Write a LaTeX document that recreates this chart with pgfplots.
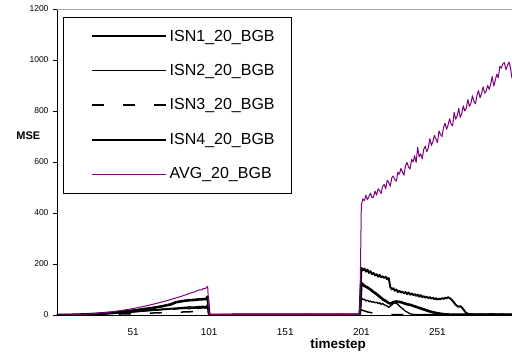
\documentclass[border=0pt]{standalone}
\usepackage{pgfplots}
\pgfplotsset{compat=1.18}
\usepackage{fontspec}
\setmainfont{Liberation Sans}
\definecolor{avgpurple}{RGB}{128,0,128}
\begin{document}
\begin{tikzpicture}
\begin{axis}[
  at={(0,0)}, anchor=south west,
  scale only axis, width=455pt, height=306pt,
  xmin=1, xmax=300, ymin=0, ymax=1200,
  axis x line*=bottom, axis y line*=left,
  axis line style={black, line width=0.9pt, -},
  xtick={51,101,151,201,251},
  ytick={0,200,400,600,800,1000,1200},
  x tick style={draw=none},
  y tick style={black, line width=0.6pt},
  tick align=outside, major tick length=4pt,
  /pgf/number format/assume math mode=true,
  /pgf/number format/1000 sep={},
  yticklabel style={font=\fontsize{8.5}{10}\selectfont, xshift=-1pt},
  xticklabel style={font=\fontsize{10}{12}\selectfont, yshift=-6pt},
  xlabel={\textbf{timestep}},
  xlabel style={at={(axis description cs:0.618,-0.098)}, anchor=center, font=\fontsize{13.5}{15}\selectfont},
  ylabel={\textbf{MSE}},
  ylabel style={at={(axis description cs:-0.063,0.585)}, anchor=center, rotate=-90, font=\fontsize{11}{13}\selectfont},
  legend cell align=left,
  legend style={at={(axis description cs:0.0132,0.974)}, anchor=north west,
    draw=black, line width=0.8pt, fill=white,
    font=\fontsize{16}{18}\selectfont,
    inner xsep=15pt, inner ysep=10.5pt, row sep=17.8pt},
  legend image code/.code={\path[draw=none] (0pt,0pt) -- (88pt,0pt); \draw[#1] (14pt,0pt) -- (88pt,0pt);},
]
% ISN1 thick
\addplot[black, line width=2.6pt, line join=round] coordinates {
(1,0)(4,0.1)(7,0.3)(10,0.6)(13,1)(16,1.6)(19,2.3)(22,3)(25,4)(28,5)(31,6.2)(34,7.5)(37,9)(40,10.5)(43,12)(46,14)(49,16)(52,18)(55,20.5)(58,23)(61,25.5)(64,28)(67,31)(70,34)(73,38)(76,42)(79,50)(82,53)(85,56)(88,58)(91,59)(94,61)(97,62)(99,63)(100,72)(101,0)
(120,1)(150,1)(180,1)(200,1)
(201,125)(203,114)(205,108)(207,100)(209,90)(211,82)(213,72)(215,62)(217,55)(219,47)(220,45)(222,50)(224,53)(225,52)(227,50)(228,48)(230,44)(231,42)(233,40)(234,38)(236,34)(237,32)(239,28)(240,26)(242,22)(243,20)(245,16)(246,14)(248,11)(250,8)(252,6)(255,3)(258,2)(260,1)(280,1)(300,1)
};
% ISN2 thin
\addplot[black, line width=1.3pt, line join=round] coordinates {
(1,0)(4,0.1)(7,0.2)(10,0.4)(13,0.7)(16,1.1)(19,1.5)(22,2.1)(25,2.7)(28,3.5)(31,4.3)(34,5.2)(37,6.2)(40,7.3)(43,8.4)(46,9.6)(49,11)(52,12.4)(55,14)(58,15.5)(61,17)(64,18.5)(67,20)(70,22)(73,24)(76,25.5)(79,27)(82,28.5)(85,30)(88,32)(91,31)(94,33)(97,34)(99,33)(100,40)(101,0)
(130,1)(170,1)(200,1)
(201,68)(202,60)(203,62)(204,55)(205,58)(206,52)(207,55)(208,50)(209,52)(210,48)(211,50)(212,45)(213,48)(214,42)(215,45)(216,40)(217,38)(218,35)(219,30)(220,35)(221,40)(222,45)(223,48)(224,45)(225,42)(226,35)(227,30)(228,25)(229,20)(230,15)(231,12)(232,8)(233,5)(234,3)(236,2)(240,1)(300,1)
};
% ISN3 dashed
\addplot[black, line width=1.5pt, dash pattern={on 12pt off 19pt}] coordinates {
(1,0)(10,0.3)(20,1)(30,2)(40,3.5)(50,5)(60,7)(70,9)(80,11)(90,13)(100,15)(101,0)
(150,1)(200,1)(201,20)(205,12)(210,6)(215,3)(220,1)(300,1)
};
% ISN4 medium
\addplot[black, line width=1.9pt, line join=round] coordinates {
(1,0)(4,0.1)(7,0.2)(10,0.5)(13,0.8)(16,1.2)(19,1.7)(22,2.3)(25,3)(28,3.8)(31,4.7)(34,5.7)(37,6.8)(40,8)(43,9.2)(46,10.5)(49,12)(52,13.5)(55,15)(58,16.5)(61,18)(64,19.5)(67,20)(70,22)(73,23)(76,24.5)(79,24)(82,26)(85,27)(88,26)(91,28)(94,27)(97,29)(99,28)(100,32)(101,0)
(140,1)(200,1)
(201,185)(202,175)(203,182)(204,170)(205,178)(206,165)(207,172)(208,160)(209,165)(210,155)(211,160)(212,150)(213,158)(214,148)(215,152)(216,145)(217,150)(218,140)(219,145)(220,110)(221,100)(222,105)(223,95)(224,100)(225,90)(226,95)(227,88)(228,92)(229,85)(230,90)(231,82)(232,88)(233,80)(234,85)(235,78)(236,82)(237,75)(238,80)(239,72)(240,78)(241,70)(242,74)(243,68)(244,72)(245,66)(246,70)(247,64)(248,68)(249,62)(250,66)(251,60)(252,64)(253,62)(254,66)(255,63)(256,68)(257,65)(258,70)(259,66)(260,62)(261,55)(262,48)(263,40)(264,35)(265,32)(266,35)(267,30)(268,22)(269,14)(270,8)(271,5)(272,3)(273,4)(274,2)(275,3)(276,1)(280,3)(283,1)(286,4)(290,1)(293,3)(296,1)(300,2)
};
% AVG
\addplot[avgpurple, line width=1pt, line join=round] coordinates {
(1,0)(4,0.1)(7,0.3)(10,0.7)(13,1.3)(16,2.0)(19,2.9)(22,4.0)(25,5.3)(28,6.8)(31,8.5)(34,10.4)(37,12.6)(40,14.9)(43,17.5)(46,20.3)(49,23.3)(52,26.6)(55,30)(58,33.8)(61,37.5)(64,42)(67,46.5)(70,51)(73,56)(76,61)(79,66.5)(82,72)(85,78)(88,84.5)(90,88)(91,90)(92,92)(94,97.7)(95,99)(96,98)(97,104)(98,103)(99,106)(100,112)(101,1)
(120,2)(140,1)(160,2)(180,1)(200,2)
(201,432)(202,455)(203,448)(204,470)(205,452)(206,465)(207,478)(208,460)(209,462)(210,486)(211,470)(212,495)(213,488)(214,476)(215,505)(216,512)(217,495)(218,528)(219,520)(220,505)(221,538)(222,545)(223,530)(224,525)(225,560)(226,552)(227,575)(228,560)(229,548)(230,585)(231,598)(232,580)(233,572)(234,610)(235,600)(236,625)(237,598)(238,658)(239,620)(240,632)(241,612)(242,650)(243,662)(244,640)(245,655)(246,692)(247,665)(248,680)(249,705)(250,690)(251,676)(252,722)(253,708)(254,700)(255,735)(256,752)(257,728)(258,745)(259,770)(260,748)(261,742)(262,795)(263,768)(264,782)(265,810)(266,775)(267,790)(268,820)(269,800)(270,812)(271,845)(272,818)(273,830)(274,860)(275,838)(276,828)(277,862)(278,880)(279,852)(280,868)(281,895)(282,870)(283,878)(284,900)(285,885)(286,905)(287,935)(288,898)(289,920)(290,945)(291,930)(292,975)(293,968)(294,985)(295,990)(296,962)(297,978)(298,992)(299,970)(300,928)
};
\legend{ISN1\_20\_BGB, ISN2\_20\_BGB, ISN3\_20\_BGB, ISN4\_20\_BGB, AVG\_20\_BGB}
\draw[gray!70, line width=0.9pt] (rel axis cs:0,1) -- (rel axis cs:1,1);
\end{axis}
\pgfresetboundingbox
\path[use as bounding box] (-57pt,-41pt) rectangle (455pt,315pt);
\end{tikzpicture}
\end{document}
